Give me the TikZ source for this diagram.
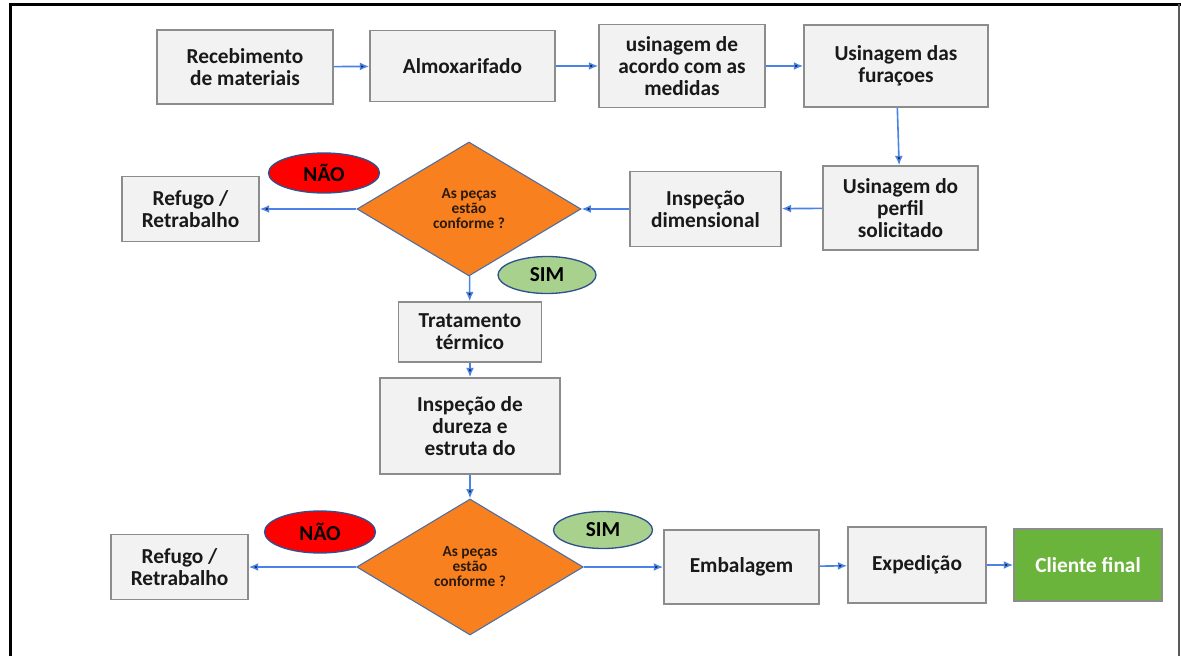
\documentclass[tikz,border=0pt]{standalone}
\usepackage{fontspec}
\setmainfont{Carlito}
\usetikzlibrary{shapes.geometric,arrows.meta,positioning}

\definecolor{boxfill}{HTML}{F2F2F2}
\definecolor{boxline}{HTML}{8C8C8C}
\definecolor{decorange}{HTML}{F8801F}
\definecolor{decline}{HTML}{4A6FA5}
\definecolor{decitext}{HTML}{2B1A0E}
\definecolor{ovalline}{HTML}{2F528F}
\definecolor{naored}{HTML}{FF0000}
\definecolor{simgreen}{HTML}{A9D18E}
\definecolor{flowblue}{HTML}{4A82E6}
\definecolor{clientgreen}{HTML}{6BB43C}

\begin{document}
\begin{tikzpicture}[x=0.75pt,y=-0.75pt,
  box/.style={draw=boxline, fill=boxfill, line width=1.2pt, align=center,
    inner sep=2pt, text=black!90, font=\bfseries\fontsize{16}{16.5}\selectfont},
  decision/.style={diamond, draw=decline, fill=decorange, line width=0.8pt,
    inner sep=0pt, align=center, text=decitext,
    font=\bfseries\fontsize{11.5}{11.25}\selectfont},
  answer/.style={ellipse, draw=ovalline, line width=1pt, inner sep=0pt,
    font=\bfseries\fontsize{16}{16}\selectfont},
  flow/.style={->, draw=flowblue, line width=1.2pt,
    >={Latex[length=7pt,width=6pt]}}]
   \useasboundingbox (0,0) rectangle (1181,656);
   % frame
   \draw[line width=2.2pt] (10.5,656) -- (10.5,4.5) -- (1181,4.5);
   \draw[gray!70!black, line width=1.1pt] (1179,4.5) -- (1179,656);

   % first row
   \node[box, minimum width=132pt, minimum height=55.5pt] (rec) at (245,67) {Recebimento\\de materiais};
   \node[box, minimum width=138.75pt, minimum height=53.25pt] (almox) at (462.5,66) {Almoxarifado};
   \node[box, minimum width=124.5pt, minimum height=62.25pt] (usin) at (682,66) {usinagem de\\acordo com as\\medidas};
   \node[box, minimum width=138pt, minimum height=61.5pt] (furo) at (896,66) {Usinagem das\\furaçoes};

   % second row
   \node[box, minimum width=116.25pt, minimum height=63pt] (perfil) at (900.5,208) {Usinagem do\\perfil\\solicitado};
   \node[box, minimum width=113.25pt, minimum height=56.25pt] (inspdim) at (705.5,209) {Inspeção\\dimensional};
   \node[decision, minimum width=168pt, minimum height=100.5pt] (dec1) at (469,209) {As peças\\estão\\conforme ?};
   \node[box, minimum width=102.75pt, minimum height=48.75pt] (ref1) at (190.5,209) {Refugo /\\Retrabalho};
   \node[answer, fill=naored, minimum width=83.25pt, minimum height=30pt] (nao1) at (324,173) {NÃO};
   \node[answer, fill=simgreen, minimum width=73.5pt, minimum height=27.75pt] (sim1) at (547,275) {SIM};

   % middle column
   \node[box, minimum width=107.25pt, minimum height=45pt] (trat) at (470,332) {Tratamento\\térmico};
   \node[box, minimum width=135pt, minimum height=72pt] (dureza) at (470,426) {Inspeção de\\dureza e\\estruta do};

   % last row
   \node[decision, minimum width=170pt, minimum height=102pt] (dec2) at (470,567) {As peças\\estão\\conforme ?};
   \node[box, minimum width=102.75pt, minimum height=48.75pt] (ref2) at (179.5,567) {Refugo /\\Retrabalho};
   \node[answer, fill=naored, minimum width=83.25pt, minimum height=31.5pt] (nao2) at (320,532) {NÃO};
   \node[answer, fill=simgreen, minimum width=74.25pt, minimum height=27.75pt] (sim2) at (603,530) {SIM};
   \node[box, minimum width=116.25pt, minimum height=55.5pt] (emb) at (741.5,567) {Embalagem};
   \node[box, minimum width=103.5pt, minimum height=57pt] (exped) at (917,565) {Expedição};
   \node[box, fill=clientgreen, text=white, minimum width=111pt, minimum height=54pt] (cliente) at (1088,565) {Cliente final};

   \path[flow]
    (rec) edge (almox)
    (almox) edge (usin)
    (usin) edge (furo)
    (furo) edge (perfil)
    (perfil) edge (inspdim)
    (inspdim) edge (dec1)
    (dec1) edge (ref1)
           edge (trat)
    (trat) edge (dureza)
    (dureza) edge (dec2)
    (dec2) edge (ref2)
           edge (emb)
    (emb) edge (exped)
    (exped) edge (cliente);
\end{tikzpicture}
\end{document}
